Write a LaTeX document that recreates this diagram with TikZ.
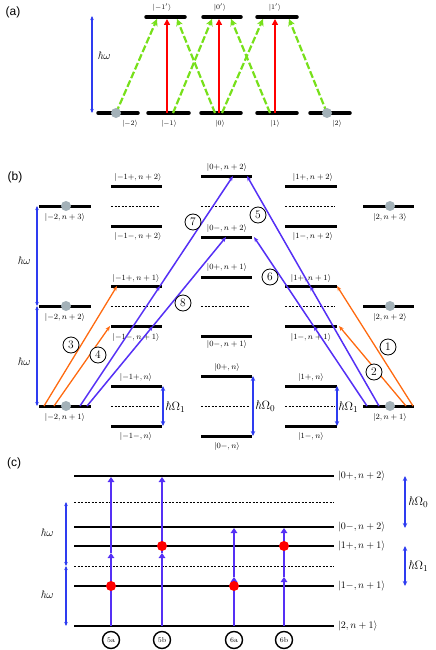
\documentclass[tikz,border=0pt]{standalone}
\usepackage{amsmath}
\usepackage{fontspec}
\newfontfamily\labfont{Liberation Sans}
\usetikzlibrary{arrows.meta,calc}
\definecolor{purA}{HTML}{5530F5}
\definecolor{blueA}{HTML}{2E3CF0}
\definecolor{greenA}{HTML}{77E01A}
\definecolor{orangeA}{HTML}{FF6A10}
\definecolor{dotgrey}{HTML}{A3B1B8}
\newcommand\kt[1]{\ensuremath{\lvert #1\rangle}}
\newcommand\hb{\textit{ħ}}
\begin{document}
\begin{tikzpicture}[x=1pt,y=-1pt,
 lev/.style={line width=3pt},
 levA/.style={line width=3.5pt, line cap=round},
 levC/.style={line width=2.4pt},
 dlev/.style={line width=0.6pt, dash pattern=on 2pt off 1.5pt},
 ket/.style={font=\fontsize{7.6}{8}\selectfont, inner sep=0pt},
 keta/.style={font=\fontsize{7.2}{8}\selectfont, inner sep=0pt},
 ketc/.style={font=\fontsize{10}{11}\selectfont, inner sep=0pt, anchor=west},
 gdot/.style={circle, fill=dotgrey, minimum size=10pt, inner sep=0pt},
 rdot/.style={circle, fill=red, minimum size=10pt, inner sep=0pt},
 hw/.style={blueA, line width=1.1pt, {Stealth[length=4pt,width=3.5pt]}-{Stealth[length=4pt,width=3.5pt]}},
 hwb/.style={blueA, line width=1.6pt, {Stealth[length=5pt,width=4.5pt]}-{Stealth[length=5pt,width=4.5pt]}},
 grn/.style={greenA, line width=2.2pt, dash pattern=on 7pt off 2.5pt, -{Stealth[length=7pt,width=7pt]}},
 redar/.style={red, line width=2.5pt, -{Triangle[length=6pt,width=6pt]}},
 org/.style={orangeA, line width=1.3pt, -{Stealth[length=5pt,width=4pt]}},
 pur/.style={purA, line width=1.5pt, -{Stealth[length=5pt,width=4pt]}},
 vb/.style={purA, line width=2.6pt, -{Triangle[length=5pt,width=6.5pt]}},
 circ/.style={circle, draw, line width=0.8pt, minimum size=16pt, inner sep=0pt, fill=white, font=\fontsize{11.5}{12}\selectfont},
 circs/.style={circle, draw, line width=1.4pt, minimum size=17pt, inner sep=0pt, fill=white, font=\fontsize{7}{8}\selectfont},
 plab/.style={font=\labfont\fontsize{12}{13}\selectfont, inner sep=0pt},
 hwl/.style={font=\fontsize{11}{12}\selectfont, inner sep=0pt},
 oml/.style={font=\fontsize{12.5}{13}\selectfont, inner sep=0pt, anchor=west}
]
\useasboundingbox (0,0) rectangle (436,650);

% ================= panel (a)
\node[plab] (pa) at (13,12) {(a)};
\draw[levA] (146,17) -- (185,17);
\draw[levA] (203,17) -- (241,17);
\draw[levA] (257,17) -- (297,17);
\foreach \a/\b in {98/138,148/189,201/241,257/297,310/350}
  \draw[levA] (\a,113) -- (\b,113);
\node[keta] (ua) at (162,7) {\kt{-1'}};
\node[keta] (ub) at (220,7) {\kt{0'}};
\node[keta] (uc) at (275,7) {\kt{1'}};
\node[keta] (la) at (130,124) {\kt{-2}};
\node[keta] (lb) at (169,124) {\kt{-1}};
\node[keta] (lc) at (220,124) {\kt{0}};
\node[keta] (ld) at (275,124) {\kt{1}};
\node[keta] (le) at (337,124) {\kt{2}};
\coordinate (aT) at (92,16); \coordinate (aB) at (92,113);
\draw[hw] (aT) -- (aB);
\node[hwl] (ahw) at (104,56) {\hb$\omega$};
% red
\foreach \x in {167,219,275}{
  \coordinate (rs\x) at (\x,113); \coordinate (re\x) at (\x,19);
  \draw[redar] (rs\x) -- (re\x);}
% green
\foreach \s/\e [count=\i] in {116/157,173/212,215/177,222/263,270/231,327/289}{
  \coordinate (gs\i) at (\s,113); \coordinate (ge\i) at (\e,19);
  \draw[grn] (gs\i) -- (ge\i);}
\node[gdot] (d1) at (116,113) {};
\node[gdot] (d2) at (327,113) {};

% ================= panel (b)
\node[plab] (pb) at (15,177) {(b)};
% columns -2 and 2
\foreach \y in {206,306,406}{
  \draw[lev] (39,\y) -- (91,\y);
  \draw[lev] (363,\y) -- (414,\y);}
% columns -1 and 1
\foreach \y in {186,226,286,326,386,426}{
  \draw[lev] (111,\y) -- (162,\y);
  \draw[lev] (285,\y) -- (337,\y);}
\foreach \y in {206,306,406}{
  \draw[dlev] (111,\y) -- (160,\y);
  \draw[dlev] (285,\y) -- (335,\y);
  \draw[dlev] (201,\y) -- (250,\y);}
% column 0
\foreach \y in {176,237,277,336,376,436}
  \draw[lev] (201,\y) -- (252,\y);
% labels
\node[ket] at (138,177) {\kt{-1+,n+2}};
\node[ket] at (138,236) {\kt{-1-,n+2}};
\node[ket] at (136,278) {\kt{-1+,n+1}};
\node[ket] at (136,337) {\kt{-1-,n+1}};
\node[ket] at (136,377) {\kt{-1+,n}};
\node[ket] at (136,436) {\kt{-1-,n}};
\node[ket] at (227,167) {\kt{0+,n+2}};
\node[ket] at (227,228) {\kt{0-,n+2}};
\node[ket] at (227,267) {\kt{0+,n+1}};
\node[ket] at (227,344) {\kt{0-,n+1}};
\node[ket] at (227,367) {\kt{0+,n}};
\node[ket] at (227,446) {\kt{0-,n}};
\node[ket] at (313,177) {\kt{1+,n+2}};
\node[ket] at (313,236) {\kt{1-,n+2}};
\node[ket] at (311,278) {\kt{1+,n+1}};
\node[ket] at (311,337) {\kt{1-,n+1}};
\node[ket] at (311,377) {\kt{1+,n}};
\node[ket] at (311,436) {\kt{1-,n}};
\node[ket] at (65,217) {\kt{-2,n+3}};
\node[ket] at (65,317) {\kt{-2,n+2}};
\node[ket] at (65,417) {\kt{-2,n+1}};
\node[ket] at (390,217) {\kt{2,n+3}};
\node[ket] at (390,317) {\kt{2,n+2}};
\node[ket] at (390,417) {\kt{2,n+1}};
% hbar omega arrows
\coordinate (b1) at (37,206); \coordinate (b2) at (37,306); \coordinate (b3) at (37,406);
\draw[hw] (b1) -- (b2);
\draw[hw] (b2) -- (b3);
\node[hwl] at (24,261) {\hb$\omega$};
\node[hwl] at (24,362) {\hb$\omega$};
\coordinate (o1a) at (163,386); \coordinate (o1b) at (163,426);
\draw[hwb] (o1a) -- (o1b);
\node[oml] at (165,407) {\hb$\Omega_1$};
\coordinate (o0a) at (253,376); \coordinate (o0b) at (253,436);
\draw[hwb] (o0a) -- (o0b);
\node[oml] at (255,406) {\hb$\Omega_0$};
\coordinate (o2a) at (337,386); \coordinate (o2b) at (337,426);
\draw[hwb] (o2a) -- (o2b);
\node[oml] at (338,407) {\hb$\Omega_1$};
% orange
\coordinate (s3) at (44,406); \coordinate (e3) at (117,286);
\coordinate (s4) at (54,406); \coordinate (e4) at (110,326);
\coordinate (s1) at (413,406); \coordinate (e1) at (337,286);
\coordinate (s2) at (406,406); \coordinate (e2) at (339,326);
\draw[org] (s3) -- (e3);
\draw[org] (s4) -- (e4);
\draw[org] (s1) -- (e1);
\draw[org] (s2) -- (e2);
% purple
\coordinate (s7) at (80,406); \coordinate (m7) at (160,286); \coordinate (e7) at (233,176);
\coordinate (s8) at (87,406); \coordinate (m8) at (153,326); \coordinate (e8) at (226,237);
\coordinate (s5) at (379,406); \coordinate (m5) at (310,286); \coordinate (e5) at (247,176);
\coordinate (s6) at (367,406); \coordinate (m6) at (313.5,326); \coordinate (e6) at (254,237);
\foreach \k in {5,6,7,8}{
  \draw[pur] (s\k) -- (m\k);
  \draw[pur] (m\k) -- (e\k);}
% dots
\foreach \y in {206,306,406}{
  \node[gdot] at (66,\y) {};
  \node[gdot] at (390,\y) {};}
% circled numbers
\node[circ] (c1) at (388,347) {1};
\node[circ] (c2) at (374,372) {2};
\node[circ] (c3) at (71,345) {3};
\node[circ] (c4) at (98,355) {4};
\node[circ] (c5) at (258,215) {5};
\node[circ] (c6) at (270,277) {6};
\node[circ] (c7) at (193,222) {7};
\node[circ] (c8) at (183,303) {8};

% ================= panel (c)
\node[plab] (pc) at (14,463) {(c)};
\foreach \y in {476,527,546,586,626}
  \draw[levC] (74,\y) -- (334,\y);
\foreach \y in {502,566}
  \draw[dlev] (74,\y) -- (334,\y);
\node[ketc] at (338,476) {\kt{0+,n+2}};
\node[ketc] at (338,527) {\kt{0-,n+2}};
\node[ketc] at (338,546) {\kt{1+,n+1}};
\node[ketc] at (338,586) {\kt{1-,n+1}};
\node[ketc] at (338,626) {\kt{2,n+1}};
\coordinate (c1a) at (66,502); \coordinate (c1b) at (66,566); \coordinate (c1c) at (66,626);
\draw[hw] (c1a) -- (c1b);
\draw[hw] (c1b) -- (c1c);
\node[hwl] at (47,533) {\hb$\omega$};
\node[hwl] at (47,595) {\hb$\omega$};
\coordinate (r0a) at (405,476); \coordinate (r0b) at (405,528);
\draw[hwb] (r0a) -- (r0b);
\node[oml] at (408,502) {\hb$\Omega_0$};
\coordinate (r1a) at (405,546); \coordinate (r1b) at (405,586);
\draw[hwb] (r1a) -- (r1b);
\node[oml] at (408,566) {\hb$\Omega_1$};
% vertical arrows
\foreach \x/\m/\t/\lab/\d in {111/553/477/5a/586,162/553/477/5b/546,234/577/528/6a/586,284/577/528/6b/546}{
  \coordinate (vs\lab) at (\x,626);
  \coordinate (vm\lab) at (\x,\m);
  \coordinate (vt\lab) at (\x,\t);
  \draw[vb] (vs\lab) -- (vm\lab);
  \draw[vb] (vm\lab) -- (vt\lab);
  \node[rdot] at (\x,\d) {};
  \node[circs] (n\lab) at (\x,640) {\lab};
}
\end{tikzpicture}
\end{document}
